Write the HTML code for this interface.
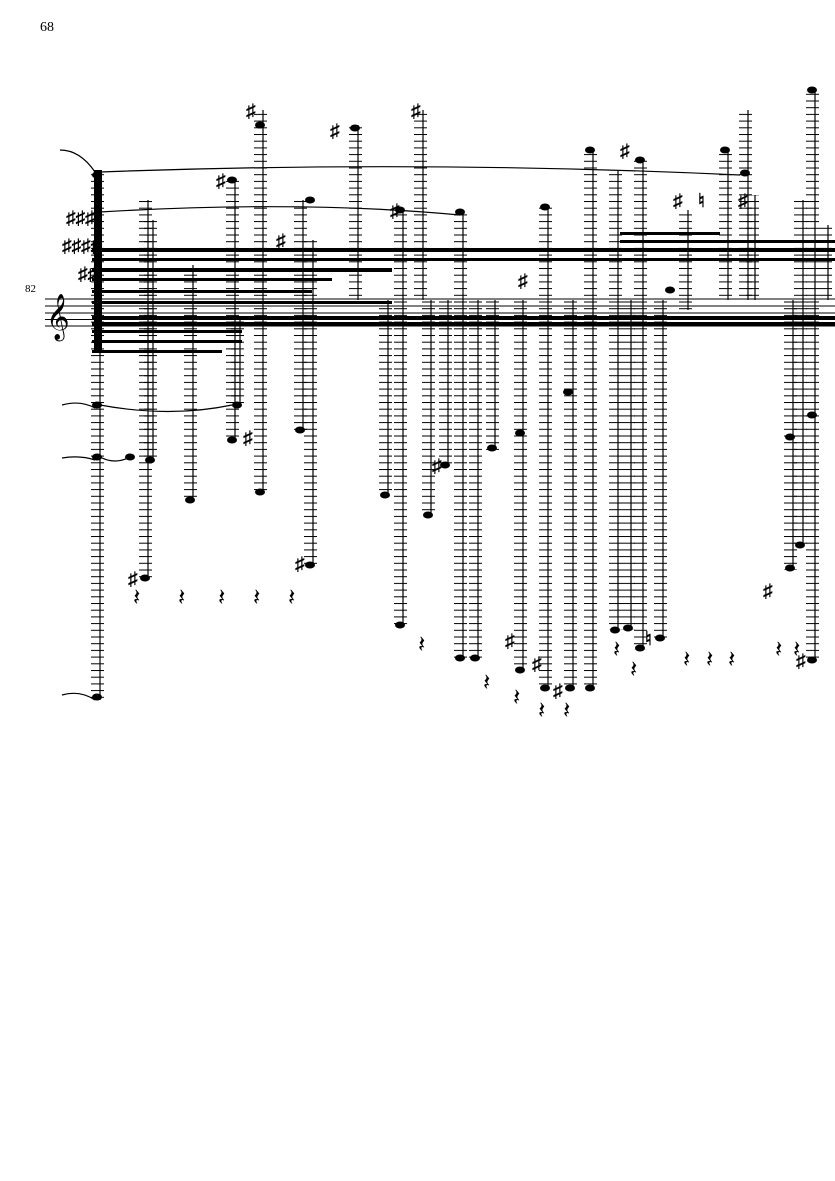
<!DOCTYPE html>
<html><head><meta charset="utf-8"><style>
body{margin:0;background:#fff;width:835px;height:1181px;overflow:hidden}
svg{display:block}
text{font-family:"Liberation Serif",serif;fill:#000}
</style></head><body>
<svg width="835" height="1181" viewBox="0 0 835 1181">
<defs>
<pattern id="led" width="14" height="6.7" patternUnits="userSpaceOnUse">
<rect x="0" y="0" width="14" height="1" fill="#000"/>
</pattern>
</defs>
<text x="40" y="31" font-size="14">68</text>
<text x="25" y="292" font-size="11">82</text>
<g stroke="#000" stroke-width="1">
<line x1="45" y1="299" x2="835" y2="299"/><line x1="45" y1="306" x2="835" y2="306"/>
<line x1="45" y1="313" x2="835" y2="313"/><line x1="45" y1="319.5" x2="835" y2="319.5"/>
<line x1="45" y1="326" x2="835" y2="326"/>
</g>
<text x="46" y="330" font-size="40">𝄞</text>
<g fill="url(#led)">
<rect x="91" y="170" width="13" height="530"/>
<rect x="139" y="200" width="13" height="378"/>
<rect x="144" y="220" width="13" height="240"/>
<rect x="184" y="265" width="13" height="235"/>
<rect x="231" y="320" width="13" height="85"/>
<rect x="226" y="180" width="13" height="260"/>
<rect x="254" y="110" width="13" height="382"/>
<rect x="294" y="200" width="13" height="230"/>
<rect x="304" y="240" width="13" height="325"/>
<rect x="349" y="125" width="13" height="175"/>
<rect x="379" y="300" width="13" height="195"/>
<rect x="394" y="210" width="13" height="415"/>
<rect x="414" y="110" width="13" height="190"/>
<rect x="422" y="300" width="13" height="215"/>
<rect x="439" y="300" width="13" height="165"/>
<rect x="454" y="210" width="13" height="450"/>
<rect x="469" y="300" width="13" height="360"/>
<rect x="486" y="300" width="13" height="150"/>
<rect x="514" y="300" width="13" height="370"/>
<rect x="539" y="205" width="13" height="485"/>
<rect x="564" y="300" width="13" height="390"/>
<rect x="584" y="150" width="13" height="540"/>
<rect x="609" y="170" width="13" height="460"/>
<rect x="622" y="300" width="13" height="330"/>
<rect x="634" y="160" width="13" height="490"/>
<rect x="654" y="300" width="13" height="340"/>
<rect x="679" y="210" width="13" height="100"/>
<rect x="719" y="150" width="13" height="150"/>
<rect x="739" y="110" width="13" height="190"/>
<rect x="746" y="195" width="13" height="105"/>
<rect x="784" y="300" width="13" height="270"/>
<rect x="794" y="200" width="13" height="345"/>
<rect x="806" y="90" width="13" height="570"/>
<rect x="819" y="225" width="13" height="75"/>
</g>
<g stroke="#000" stroke-width="1.2">
<line x1="100" y1="170" x2="100" y2="700"/><line x1="148" y1="200" x2="148" y2="578"/>
<line x1="153" y1="220" x2="153" y2="460"/><line x1="193" y1="265" x2="193" y2="500"/>
<line x1="240" y1="320" x2="240" y2="405"/><line x1="235" y1="180" x2="235" y2="440"/>
<line x1="263" y1="110" x2="263" y2="492"/><line x1="303" y1="200" x2="303" y2="430"/>
<line x1="313" y1="240" x2="313" y2="565"/><line x1="358" y1="125" x2="358" y2="300"/>
<line x1="388" y1="300" x2="388" y2="495"/><line x1="403" y1="210" x2="403" y2="625"/>
<line x1="423" y1="110" x2="423" y2="300"/><line x1="431" y1="300" x2="431" y2="515"/>
<line x1="448" y1="300" x2="448" y2="465"/><line x1="463" y1="210" x2="463" y2="660"/>
<line x1="478" y1="300" x2="478" y2="660"/><line x1="495" y1="300" x2="495" y2="450"/>
<line x1="523" y1="300" x2="523" y2="670"/><line x1="548" y1="205" x2="548" y2="690"/>
<line x1="573" y1="300" x2="573" y2="690"/><line x1="593" y1="150" x2="593" y2="690"/>
<line x1="618" y1="170" x2="618" y2="630"/><line x1="631" y1="300" x2="631" y2="630"/>
<line x1="643" y1="160" x2="643" y2="650"/><line x1="663" y1="300" x2="663" y2="640"/>
<line x1="688" y1="210" x2="688" y2="310"/><line x1="728" y1="150" x2="728" y2="300"/>
<line x1="748" y1="110" x2="748" y2="300"/><line x1="755" y1="195" x2="755" y2="300"/>
<line x1="793" y1="300" x2="793" y2="570"/><line x1="803" y1="200" x2="803" y2="545"/>
<line x1="815" y1="90" x2="815" y2="660"/><line x1="828" y1="225" x2="828" y2="300"/>
</g>
<g fill="#000">
<ellipse cx="97" cy="175" rx="5" ry="3.5"/><ellipse cx="97" cy="697" rx="5" ry="3.5"/>
<ellipse cx="145" cy="578" rx="5" ry="3.5"/><ellipse cx="150" cy="460" rx="5" ry="3.5"/>
<ellipse cx="190" cy="500" rx="5" ry="3.5"/><ellipse cx="237" cy="405" rx="5" ry="3.5"/>
<ellipse cx="232" cy="180" rx="5" ry="3.5"/><ellipse cx="232" cy="440" rx="5" ry="3.5"/>
<ellipse cx="260" cy="125" rx="5" ry="3.5"/><ellipse cx="260" cy="492" rx="5" ry="3.5"/>
<ellipse cx="300" cy="430" rx="5" ry="3.5"/><ellipse cx="310" cy="200" rx="5" ry="3.5"/>
<ellipse cx="310" cy="565" rx="5" ry="3.5"/><ellipse cx="355" cy="128" rx="5" ry="3.5"/>
<ellipse cx="385" cy="495" rx="5" ry="3.5"/><ellipse cx="400" cy="210" rx="5" ry="3.5"/>
<ellipse cx="400" cy="625" rx="5" ry="3.5"/><ellipse cx="428" cy="515" rx="5" ry="3.5"/>
<ellipse cx="445" cy="465" rx="5" ry="3.5"/><ellipse cx="460" cy="212" rx="5" ry="3.5"/>
<ellipse cx="460" cy="658" rx="5" ry="3.5"/><ellipse cx="475" cy="658" rx="5" ry="3.5"/>
<ellipse cx="492" cy="448" rx="5" ry="3.5"/><ellipse cx="520" cy="670" rx="5" ry="3.5"/>
<ellipse cx="545" cy="207" rx="5" ry="3.5"/><ellipse cx="545" cy="688" rx="5" ry="3.5"/>
<ellipse cx="570" cy="688" rx="5" ry="3.5"/><ellipse cx="590" cy="150" rx="5" ry="3.5"/>
<ellipse cx="590" cy="688" rx="5" ry="3.5"/><ellipse cx="615" cy="630" rx="5" ry="3.5"/>
<ellipse cx="628" cy="628" rx="5" ry="3.5"/><ellipse cx="640" cy="160" rx="5" ry="3.5"/>
<ellipse cx="640" cy="648" rx="5" ry="3.5"/><ellipse cx="660" cy="638" rx="5" ry="3.5"/>
<ellipse cx="725" cy="150" rx="5" ry="3.5"/><ellipse cx="745" cy="173" rx="5" ry="3.5"/>
<ellipse cx="790" cy="568" rx="5" ry="3.5"/><ellipse cx="800" cy="545" rx="5" ry="3.5"/>
<ellipse cx="812" cy="90" rx="5" ry="3.5"/><ellipse cx="812" cy="660" rx="5" ry="3.5"/>
<ellipse cx="97" cy="405" rx="5" ry="3.5"/><ellipse cx="97" cy="457" rx="5" ry="3.5"/>
<ellipse cx="130" cy="457" rx="5" ry="3.5"/>
<ellipse cx="520" cy="433" rx="5" ry="3.5"/>
<ellipse cx="568" cy="392" rx="5" ry="3.5"/><ellipse cx="790" cy="437" rx="5" ry="3.5"/>
<ellipse cx="812" cy="415" rx="5" ry="3.5"/><ellipse cx="670" cy="290" rx="5" ry="3.5"/>
</g>
<g fill="#000">
<rect x="92" y="248" width="743" height="4"/>
<rect x="92" y="258" width="743" height="3"/>
<rect x="92" y="268" width="300" height="4"/>
<rect x="92" y="278" width="240" height="3"/>
<rect x="92" y="290" width="220" height="3"/>
<rect x="92" y="316" width="743" height="4"/>
<rect x="92" y="322" width="743" height="4"/>
<rect x="92" y="330" width="150" height="3"/>
<rect x="92" y="340" width="150" height="3"/>
<rect x="92" y="350" width="130" height="3"/>
<rect x="92" y="301" width="300" height="3"/>
<rect x="620" y="232" width="100" height="3"/>
<rect x="620" y="240" width="215" height="3"/>
<rect x="94" y="170" width="8" height="180"/>
</g>
<g fill="none" stroke="#000" stroke-width="1.2">
<path d="M100 172 Q420 160 740 175"/>
<path d="M100 212 Q300 200 460 215"/>
<path d="M100 405 Q170 418 232 405"/>
<path d="M100 457 Q115 465 130 457"/>
<path d="M62 695 Q80 690 95 700"/>
<path d="M62 405 Q80 400 95 408"/>
<path d="M62 458 Q80 455 95 460"/>
<path d="M60 150 Q80 150 95 172"/>
</g>
<g font-size="19" font-weight="bold" font-family="DejaVu Sans">
<text x="66" y="224">♯♯♯</text><text x="62" y="252">♯♯♯♯</text><text x="78" y="280">♯♯</text>
<text x="246" y="117">♯</text><text x="330" y="137">♯</text><text x="411" y="117">♯</text>
<text x="216" y="187">♯</text><text x="390" y="217">♯</text><text x="620" y="157">♯</text>
<text x="673" y="207">♯</text><text x="698" y="207">♮</text><text x="738" y="207">♯</text>
<text x="276" y="247">♯</text><text x="243" y="444">♯</text><text x="128" y="585">♯</text>
<text x="295" y="570">♯</text><text x="432" y="472">♯</text><text x="505" y="647">♯</text>
<text x="532" y="670">♯</text><text x="553" y="697">♯</text><text x="645" y="645">♮</text>
<text x="763" y="597">♯</text><text x="796" y="667">♯</text><text x="518" y="287">♯</text>
</g>
<g font-size="24" font-family="DejaVu Sans">
<text x="133" y="605">𝄽</text><text x="178" y="605">𝄽</text><text x="218" y="605">𝄽</text>
<text x="253" y="605">𝄽</text><text x="288" y="605">𝄽</text><text x="418" y="652">𝄽</text>
<text x="483" y="690">𝄽</text><text x="513" y="705">𝄽</text><text x="538" y="718">𝄽</text>
<text x="563" y="718">𝄽</text><text x="613" y="657">𝄽</text><text x="630" y="677">𝄽</text>
<text x="683" y="667">𝄽</text><text x="706" y="667">𝄽</text><text x="728" y="667">𝄽</text>
<text x="775" y="657">𝄽</text><text x="793" y="657">𝄽</text>
</g>
</svg>
</body></html>
